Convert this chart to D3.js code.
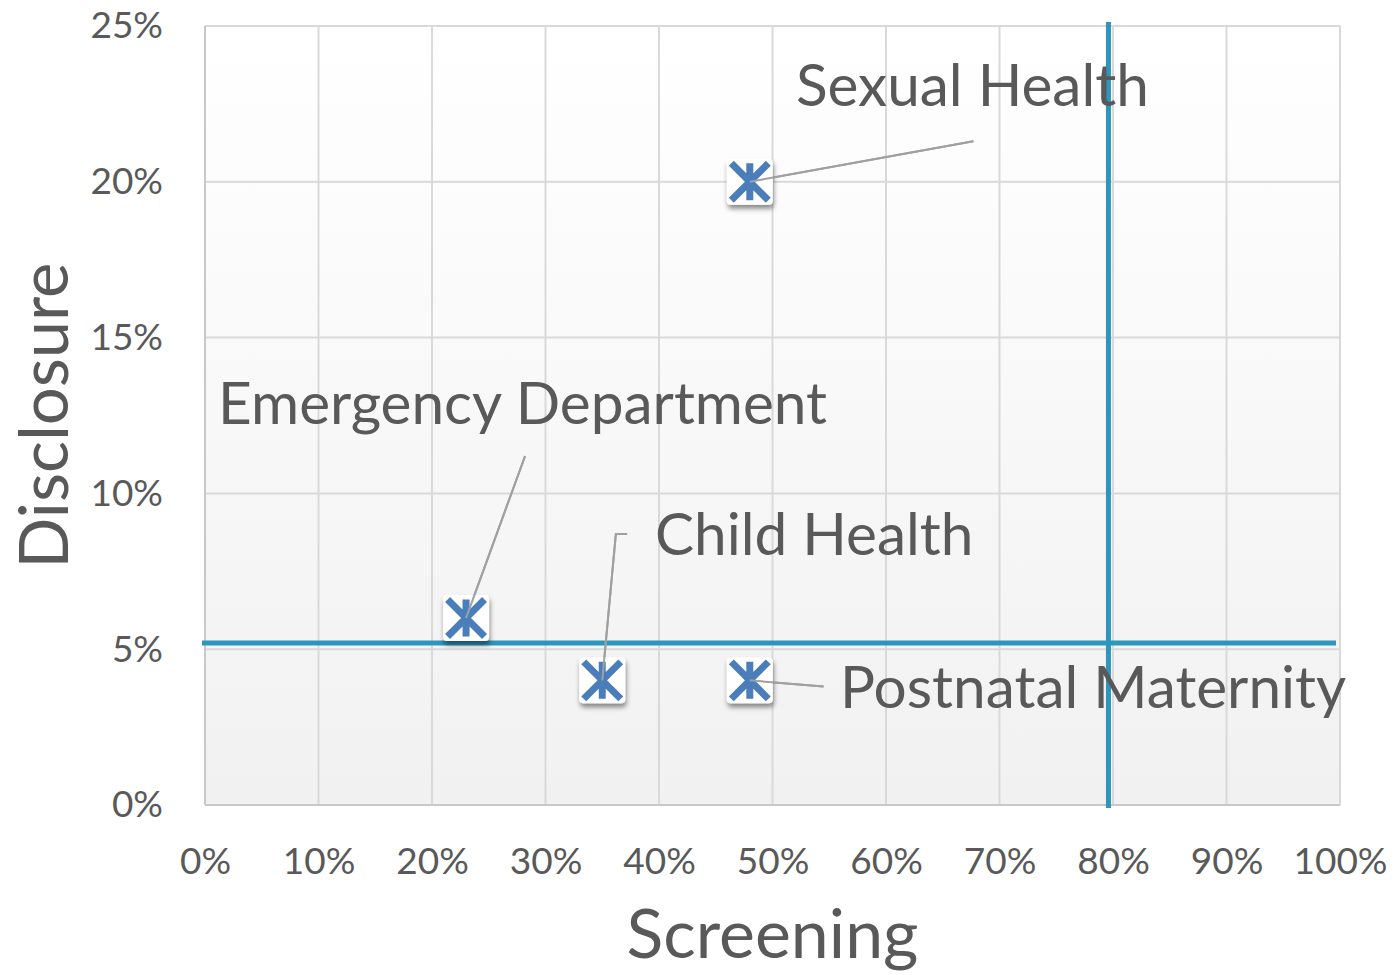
<!DOCTYPE html>
<meta charset="utf-8">
<html>
<head>
<script src="https://d3js.org/d3.v7.min.js"></script>
<style>
  body { margin: 0; background: #fff; }
  text { font-family: Lato, "Open Sans", sans-serif; fill: #595959; }
</style>
</head>
<body>
<div id="chart"></div>
<script>

// data
var labels = ["Sexual Health", "Emergency Department", "Child Health", "Postnatal Maternity"];
var screening = [0.48, 0.23, 0.35, 0.48];
var disclosure = [0.20, 0.06, 0.04, 0.04];
// where each label sits (data coords) and its leader line end
var labelX = [0.5207, 0.0115, 0.3965, 0.5595];
var labelY = [0.2243, 0.1223, 0.0802, 0.0311];
var leaderX = [0.677, 0.282, [0.362, 0.372], 0.545];
var leaderY = [0.213, 0.112, [0.087, 0.087], 0.038];
var xTicks = [0, 0.1, 0.2, 0.3, 0.4, 0.5, 0.6, 0.7, 0.8, 0.9, 1.0];
var yTicks = [0, 0.05, 0.10, 0.15, 0.20, 0.25];
var targetScreening = 0.796;
var targetDisclosure = 0.052;

var W = 1398, H = 975;
var margin = {top: 26, right: 58, bottom: 170, left: 205};
var width = W - margin.left - margin.right;
var height = H - margin.top - margin.bottom;

var svg = d3.select("#chart").append("svg")
    .attr("width", W).attr("height", H);

var defs = svg.append("defs");
var grad = defs.append("linearGradient").attr("id", "bg")
    .attr("x1", 0).attr("y1", 0).attr("x2", 0).attr("y2", 1);
grad.append("stop").attr("offset", "0%").attr("stop-color", "#ffffff");
grad.append("stop").attr("offset", "100%").attr("stop-color", "#f1f1f1");

var shadow = defs.append("filter").attr("id", "shadow")
    .attr("x", "-50%").attr("y", "-50%").attr("width", "200%").attr("height", "200%");
shadow.append("feDropShadow").attr("dx", 1).attr("dy", 4).attr("stdDeviation", 2.5)
    .attr("flood-color", "#000").attr("flood-opacity", 0.45);

var g = svg.append("g")
    .attr("transform", "translate(" + margin.left + "," + margin.top + ")");

var x = d3.scaleLinear().domain([0, 1]).range([0, width]);
var y = d3.scaleLinear().domain([0, 0.25]).range([height, 0]);

g.append("rect").attr("width", width).attr("height", height).attr("fill", "url(#bg)");

// gridlines
g.selectAll("line.vg").data(xTicks).enter().append("line")
    .attr("x1", d => x(d)).attr("x2", d => x(d))
    .attr("y1", 0).attr("y2", height)
    .attr("stroke", "#d9d9d9").attr("stroke-width", 2);
g.selectAll("line.hg").data(yTicks).enter().append("line")
    .attr("x1", 0).attr("x2", width)
    .attr("y1", d => y(d)).attr("y2", d => y(d))
    .attr("stroke", "#d9d9d9").attr("stroke-width", 2);
// axis lines
g.append("line").attr("x1", 0).attr("x2", 0).attr("y1", 0).attr("y2", height)
    .attr("stroke", "#c8c8c8").attr("stroke-width", 2);
g.append("line").attr("x1", 0).attr("x2", width).attr("y1", height).attr("y2", height)
    .attr("stroke", "#c8c8c8").attr("stroke-width", 2);

var pct = d3.format(".0%");

var xAxis = g.append("g").attr("transform", "translate(0," + height + ")")
    .call(d3.axisBottom(x).tickValues(xTicks).tickFormat(pct).tickSize(0).tickPadding(43));
var yAxis = g.append("g")
    .call(d3.axisLeft(y).tickValues(yTicks).tickFormat(pct).tickSize(0).tickPadding(42));
[xAxis, yAxis].forEach(function(a) {
  a.select(".domain").remove();
  a.selectAll("text").attr("font-size", 37).attr("font-family", "Lato, sans-serif").attr("fill", "#595959");
});

// axis titles
svg.append("text").attr("x", margin.left + x(0.5)).attr("y", 958)
    .attr("text-anchor", "middle").attr("font-size", 68).text("Screening");
svg.append("text").attr("transform", "translate(68," + (margin.top + y(0.125)) + ") rotate(-90)")
    .attr("text-anchor", "middle").attr("font-size", 67).text("Disclosure");

// target lines
g.append("line").attr("x1", -3).attr("x2", width - 4)
    .attr("y1", y(targetDisclosure)).attr("y2", y(targetDisclosure))
    .attr("stroke", "#2e95bc").attr("stroke-width", 5);
g.append("line").attr("x1", x(targetScreening)).attr("x2", x(targetScreening))
    .attr("y1", -4).attr("y2", height + 3)
    .attr("stroke", "#2e95bc").attr("stroke-width", 5);

// leader lines
labels.forEach(function(l, i) {
  var pts = [[screening[i], disclosure[i]]];
  if (Array.isArray(leaderX[i])) {
    leaderX[i].forEach(function(v, k) { pts.push([v, leaderY[i][k]]); });
  } else pts.push([leaderX[i], leaderY[i]]);
  g.append("path")
    .attr("d", d3.line().x(d => x(d[0])).y(d => y(d[1]))(pts))
    .attr("fill", "none").attr("stroke", "#a0a0a0").attr("stroke-width", 2);
});

// markers
var s = 23;
var mk = g.selectAll("g.mk").data(labels).enter().append("g")
    .attr("transform", (d, i) => "translate(" + x(screening[i]) + "," + y(disclosure[i]) + ")");
mk.append("rect").attr("x", -s).attr("y", -s).attr("width", 2 * s).attr("height", 2 * s)
    .attr("rx", 4).attr("fill", "#fff").attr("filter", "url(#shadow)");
var a = 18.5;
mk.append("path")
    .attr("d", "M" + (-a) + "," + (-a) + "L" + a + "," + a + "M" + a + "," + (-a) + "L" + (-a) + "," + a + "M0," + (-a) + "L0," + a)
    .attr("stroke", "#4a7ebb").attr("stroke-width", 7).attr("fill", "none");

// leader line starts drawn over the symbols
labels.forEach(function(l, i) {
  var p0 = [screening[i], disclosure[i]];
  var p1 = Array.isArray(leaderX[i]) ? [leaderX[i][0], leaderY[i][0]] : [leaderX[i], leaderY[i]];
  g.append("line").attr("x1", x(p0[0])).attr("y1", y(p0[1]))
    .attr("x2", x(p1[0])).attr("y2", y(p1[1]))
    .attr("stroke", "#a0a0a0").attr("stroke-width", 2);
});

// data labels
g.selectAll("text.lbl").data(labels).enter().append("text")
    .attr("x", (d, i) => x(labelX[i]))
    .attr("y", (d, i) => y(labelY[i]))
    .attr("font-size", 58.5).attr("fill", "#595959")
    .text(d => d);

</script>
</body>
</html>
